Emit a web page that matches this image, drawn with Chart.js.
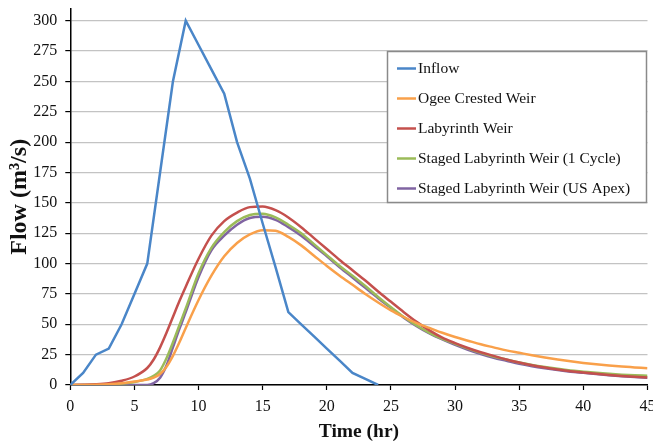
<!DOCTYPE html>
<html>
<head>
<meta charset="utf-8">
<script src="https://cdn.jsdelivr.net/npm/chart.js@4.4.1/dist/chart.umd.min.js"></script>
<style>
  html, body { margin: 0; padding: 0; background: #fff; }
  #wrap { width: 653px; height: 443px; position: relative; }
</style>
</head>
<body>
<div id="wrap"><canvas id="flowChart"></canvas></div>
<script>
// Inflow hydrograph (straight segments)
const inflowHours = [0, 1, 2, 3, 4, 5, 6, 7, 8, 9, 10, 11, 12, 13, 14, 15, 16, 17, 18, 19, 20, 21, 22, 23, 24];
const inflow      = [0, 10, 25, 30, 50, 75, 100, 175, 250, 300, 280, 260, 240, 200, 170, 133, 97, 60, 50, 40, 30, 20, 10, 5, 0];

// Routed outflows
const weirHours = [0, 1, 2, 3, 4, 5, 6, 6.5, 7, 7.5, 8, 8.5, 9, 10, 11, 12, 13, 14, 15, 16, 17, 18, 19, 20,
  21, 22, 23, 24, 25, 26, 27, 28, 29, 30, 31, 32, 33, 34, 35, 36, 37, 38, 39, 40, 41, 42, 43, 44, 45];
const ogee = [0, 0.1, 0.3, 0.7, 1.5, 2.8, 4.5, 6, 9, 15, 24, 35, 47, 70, 90, 106, 117, 124, 127.5, 127, 122, 115, 106.5, 98,
  90, 82.5, 75, 68, 61.5, 56, 51, 47, 43, 39.5, 36.5, 33.5, 31, 28.5, 26.5, 24.5, 22.7, 21, 19.5, 18.2, 17, 16, 15.2, 14.5, 13.8];
const labyrinth = [0, 0.2, 0.6, 1.5, 3.5, 7, 14, 21, 31, 43, 56, 69, 81, 104, 123, 135, 142, 146.5, 147, 144, 138, 130, 121, 112,
  103, 94.5, 86, 77, 68.5, 60, 52, 45, 39, 34.5, 30.5, 27, 24, 21, 18.5, 16.3, 14.4, 12.8, 11.4, 10.2, 9.2, 8.3, 7.5, 6.8, 6.2];
const stagedCycle = [0, 0, 0.2, 0.5, 1.2, 2.5, 5, 7.5, 12, 22, 35, 49, 63, 92, 113, 126, 135, 140, 141, 138, 132, 125, 116, 107,
  98, 90, 81.5, 72.5, 64, 56, 49, 43, 38, 34, 30, 26.5, 23.5, 21, 18.5, 16.5, 14.8, 13.3, 12, 11, 10, 9.2, 8.5, 8, 7.6];
const stagedApex = [0, 0, 0, 0, 0, 0, 0, 1.5, 6, 16, 31, 46, 60, 89, 111, 123, 132, 137.5, 138.5, 136, 130, 123, 114.5, 106,
  97, 88.5, 80, 71.5, 63.5, 55.5, 48.5, 42.5, 37.5, 33, 29, 25.5, 22.5, 20, 17.5, 15.5, 13.8, 12.3, 11, 10, 9, 8.1, 7.3, 6.6, 6];

const seriesNames = ['Inflow', 'Ogee Crested Weir', 'Labyrinth Weir', 'Staged Labyrinth Weir (1 Cycle)', 'Staged Labyrinth Weir (US Apex)'];
const seriesColors = ['#4a86c8', '#f9a04a', '#c4504d', '#9bbb59', '#8064a2'];

const xTicks = [0, 5, 10, 15, 20, 25, 30, 35, 40, 45];
const yTicks = [0, 25, 50, 75, 100, 125, 150, 175, 200, 225, 250, 275, 300];

const pairs = (xs, ys) => xs.map((x, i) => ({ x: x, y: ys[i] }));

// legend box drawn inside the plot, like the spreadsheet original
const boxLegend = {
  id: 'boxLegend',
  afterDatasetsDraw(chart) {
    const ctx = chart.ctx;
    const x0 = 387.5, y0 = 51.5, w = 259, h = 151;
    ctx.save();
    ctx.fillStyle = '#fff';
    ctx.fillRect(x0, y0, w, h);
    ctx.strokeStyle = '#8a8a8a';
    ctx.lineWidth = 1.5;
    ctx.strokeRect(x0, y0, w, h);
    ctx.font = '15.5px "Liberation Serif", "Times New Roman", serif';
    ctx.textBaseline = 'middle';
    chart.data.datasets.forEach((ds, i) => {
      const y = 68.5 + i * 30;
      ctx.strokeStyle = ds.borderColor;
      ctx.lineWidth = 2.5;
      ctx.beginPath();
      ctx.moveTo(397, y);
      ctx.lineTo(416, y);
      ctx.stroke();
      ctx.fillStyle = '#111';
      ctx.fillText(ds.label, 418, y + 0.5);
    });
    ctx.restore();
  }
};

const serif = '"Liberation Serif", "Times New Roman", serif';

new Chart(document.getElementById('flowChart'), {
  type: 'line',
  data: {
    datasets: [
      { label: seriesNames[0], data: pairs(inflowHours, inflow), borderColor: seriesColors[0], tension: 0 },
      { label: seriesNames[1], data: pairs(weirHours, ogee), borderColor: seriesColors[1], cubicInterpolationMode: 'monotone' },
      { label: seriesNames[2], data: pairs(weirHours, labyrinth), borderColor: seriesColors[2], cubicInterpolationMode: 'monotone' },
      { label: seriesNames[3], data: pairs(weirHours, stagedCycle), borderColor: seriesColors[3], cubicInterpolationMode: 'monotone' },
      { label: seriesNames[4], data: pairs(weirHours, stagedApex), borderColor: seriesColors[4], cubicInterpolationMode: 'monotone' },
    ],
  },
  options: {
    responsive: true,
    maintainAspectRatio: false,
    animation: false,
    layout: { padding: { top: 8.6, right: 5.5, left: 0, bottom: 0 } },
    elements: {
      point: { radius: 0 },
      line: { borderWidth: 2.5, fill: false },
    },
    scales: {
      x: {
        type: 'linear',
        min: 0,
        max: 45,
        afterBuildTicks: (s) => { s.ticks = xTicks.map(v => ({ value: v })); },
        afterFit: (s) => { s.height = 58; s.paddingLeft = 0; s.paddingRight = 0; },
        ticks: { color: '#111', font: { family: serif, size: 16 }, padding: 7, maxRotation: 0 },
        grid: { drawOnChartArea: false, drawTicks: true, tickLength: 5, tickColor: '#000', tickWidth: 1.2 },
        border: { color: '#000', width: 1.5 },
        title: { display: true, text: 'Time (hr)', color: '#111',
          font: { family: serif, size: 19.5, weight: 'bold', lineHeight: 1 }, padding: { top: 0, bottom: 1.5 } },
      },
      y: {
        min: 0,
        max: 310,
        afterBuildTicks: (s) => { s.ticks = yTicks.map(v => ({ value: v })); },
        afterFit: (s) => { s.width = 70.3; s.paddingTop = 0; s.paddingBottom = 0; },
        ticks: { color: '#111', font: { family: serif, size: 16 }, padding: 8 },
        grid: { color: '#c3c3c3', lineWidth: 1.2, drawTicks: true, tickLength: 5, tickColor: '#000', tickWidth: 1.2 },
        border: { color: '#000', width: 1.5 },
        title: { display: true, text: 'Flow (m³/s)', color: '#111',
          font: { family: serif, size: 24, weight: 'bold', lineHeight: 1 }, padding: { top: 8, bottom: 0 } },
      },
    },
    plugins: {
      legend: { display: false },
      tooltip: { enabled: false },
    },
  },
  plugins: [boxLegend],
});
</script>
</body>
</html>
